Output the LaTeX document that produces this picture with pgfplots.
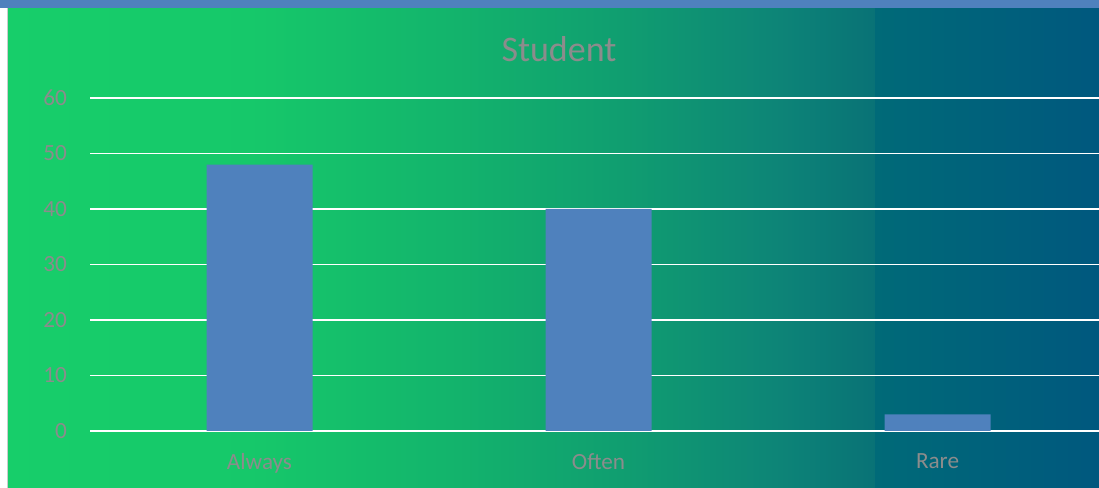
\documentclass[border=0pt]{standalone}
\usepackage{pgfplots}
\pgfplotsset{compat=1.18}
\usepackage{fontspec}
\setmainfont{Carlito}
\definecolor{topbar}{RGB}{79,129,189}
\definecolor{barc}{RGB}{79,129,189}
\definecolor{txt}{RGB}{140,140,140}
\definecolor{g0}{RGB}{23,206,106}
\definecolor{g1}{RGB}{22,200,106}
\definecolor{g2}{RGB}{19,180,108}
\definecolor{g3}{RGB}{16,158,112}
\definecolor{g4}{RGB}{13,132,119}
\definecolor{g5}{RGB}{9,114,118}
\definecolor{g6}{RGB}{0,106,120}
\definecolor{g7}{RGB}{0,88,126}
\begin{document}
\begin{tikzpicture}[x=1bp,y=1bp]
\useasboundingbox (0,0) rectangle (1099,488);
\clip (0,0) rectangle (1099,488);
\fill[white] (0,0) rectangle (1099,488);
% gradient background
\fill[left color=g0,right color=g1] (8,0) rectangle (250.5,481);
\fill[left color=g1,right color=g2] (250,0) rectangle (450.5,481);
\fill[left color=g2,right color=g3] (450,0) rectangle (620.5,481);
\fill[left color=g3,right color=g4] (620,0) rectangle (780.5,481);
\fill[left color=g4,right color=g5] (780,0) rectangle (875.5,481);
\fill[left color=g6,right color=g7] (875,0) rectangle (1099,481);
\fill[topbar] (0,480) rectangle (1099,488);
\draw[black!20,line width=1bp] (7.5,0) -- (7.5,480);
\node[text=txt,font=\fontsize{36bp}{40bp}\selectfont] at (559,439) {Student};
\begin{axis}[
  at={(90bp,57bp)}, anchor=south west,
  scale only axis, width=1017bp, height=333bp,
  xmin=-0.5, xmax=2.5, ymin=0, ymax=60,
  ytick={0,10,20,30,40,50,60},
  xtick=data, xticklabels={Always,Often,Rare},
  major tick length=0pt,
  axis line style={draw=none},
  ymajorgrids, grid style={white,line width=1.8bp},
  tick label style={text=txt,font=\fontsize{23.2bp}{28bp}\selectfont},
  /pgf/number format/assume math mode=true,
  yticklabel style={anchor=east,inner sep=0pt,xshift=-23bp},
  xticklabel style={anchor=north,inner sep=0pt,yshift=-22bp},
  ybar, bar width=106bp,
  clip=false,
]
\addplot[fill=barc,draw=none] coordinates {(0,48) (1,40) (2,3)};
\end{axis}
\end{tikzpicture}
\end{document}
